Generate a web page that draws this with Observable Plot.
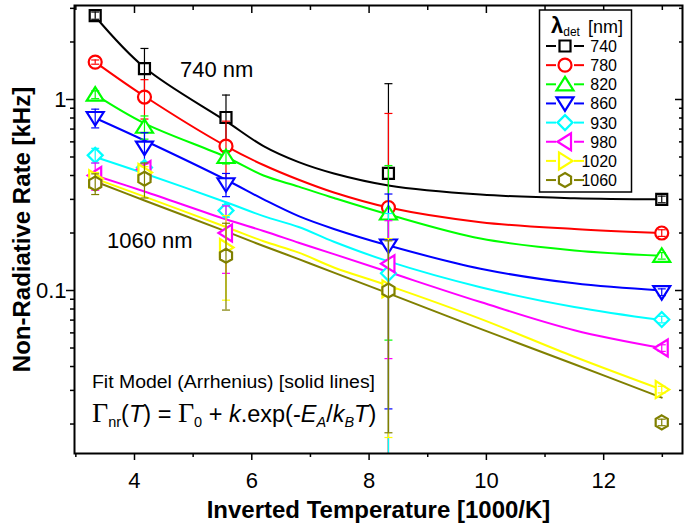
<!DOCTYPE html>
<html><head><meta charset="utf-8">
<script src="https://cdn.jsdelivr.net/npm/d3@7"></script>
<script src="https://cdn.jsdelivr.net/npm/@observablehq/plot@0.6"></script>
<style>body{margin:0;background:#fff;} svg{display:block}</style>
</head><body><div id="chart"></div>
<script>
// ---- data ----
const temperatures = [3.33, 4.17, 5.56, 8.33, 12.99];
const wavelengths = ["740","780","820","860","930","980","1020","1060"];
const colors = ["#000000","#ff0000","#00ff00","#0000ff","#00ffff","#ff00ff","#ffff00","#808000"];

const rate740  = [2.75, 1.45, 0.805, 0.41, 0.30];
const rate780  = [1.57, 1.03, 0.57, 0.272, 0.20];
const rate820  = [1.06, 0.72, 0.50, 0.253, 0.152];
const rate860  = [0.80, 0.56, 0.36, 0.172, 0.098];
const rate930  = [0.51, 0.44, 0.262, 0.123, 0.0705];
const rate980  = [0.40, 0.43, 0.20, 0.138, 0.050];
const rate1020 = [0.385, 0.415, 0.168, 0.102, 0.0303];
const rate1060 = [0.363, 0.385, 0.152, 0.100, 0.0204];

const err740  = [0.12, 0.40, 0.25, 0.80, 0.012];
const err780  = [0.04, 0.24, 0.20, 0.573, 0.008];
const err820  = [0.05, 0.10, 0.04, 0.198, 0.006];
const err860  = [0.09, 0.11, 0.05, 0.148, 0.004];
const err930  = [0.045, 0.03, 0.02, 0.13, 0.0028];
const err980  = [0.065, 0.03, 0.077, 0.094, 0.002];
const err1020 = [0.03, 0.03, 0.079, 0.085, 0.0012];
const err1060 = [0.045, 0.08, 0.073, 0.082, 0.0008];

// fit curves (solid lines) read at these inverted temperatures
const fitX    = [3.33, 4.17, 5.56, 6.2, 6.8, 7.4, 8.33, 9.9, 11.5, 12.99];
const fit740  = [2.72, 1.47, 0.77, 0.57, 0.47, 0.41, 0.355, 0.318, 0.304, 0.30];
const fit780  = [1.57, 1.04, 0.57, 0.454, 0.38, 0.326, 0.272, 0.228, 0.21, 0.20];
const fit820  = [1.06, 0.75, 0.50, 0.40, 0.35, 0.305, 0.25, 0.187, 0.162, 0.152];
const fit860  = [0.80, 0.61, 0.38, 0.30, 0.245, 0.21, 0.172, 0.130, 0.109, 0.100];
const fit930  = [0.50, 0.41, 0.29, 0.245, 0.215, 0.18, 0.142, 0.104, 0.082, 0.070];
const fit980  = [0.40, 0.33, 0.236, 0.205, 0.178, 0.155, 0.125, 0.087, 0.062, 0.050];
const fit1020 = [0.385, 0.31, 0.215, 0.181, 0.158, 0.132, 0.106, 0.071, 0.045, 0.0303];
const fit1060 = [0.372, 0.296, 0.204, 0.171, 0.146, 0.124, 0.0966, 0.063, 0.0411, 0.0275];

const xTicks = [4, 6, 8, 10, 12];
const xMinorTicks = [3, 5, 7, 9, 11, 13];
const yTicks = [0.1, 1];
const yMinorTicks = [0.02,0.03,0.04,0.05,0.06,0.07,0.08,0.09,0.2,0.3,0.4,0.5,0.6,0.7,0.8,0.9,2,3];

// ---- symbols ----
const poly = pts => ({draw(ctx){ ctx.moveTo(pts[0][0], pts[0][1]); for (let i = 1; i < pts.length; i++) ctx.lineTo(pts[i][0], pts[i][1]); ctx.closePath(); }});
const symSquare = poly([[-5.5,-5.5],[5.5,-5.5],[5.5,5.5],[-5.5,5.5]]);
const symCircle = {draw(ctx){ ctx.moveTo(6.5,0); ctx.arc(0,0,6.5,0,2*Math.PI); ctx.closePath(); }};
const symUp = poly([[0,-7.5],[8.5,6],[-8.5,6]]);
const symDown = poly([[0,7.5],[8.5,-6],[-8.5,-6]]);
const symDiamond = poly([[0,-7.5],[7.5,0],[0,7.5],[-7.5,0]]);
const symLeft = poly([[-7.5,0],[6,-8.5],[6,8.5]]);
const symRight = poly([[7.5,0],[-6,-8.5],[-6,8.5]]);
const symHex = poly([[0,-7],[6.06,-3.5],[6.06,3.5],[0,7],[-6.06,3.5],[-6.06,-3.5]]);
const symCap = {draw(ctx){ ctx.moveTo(-4,0); ctx.lineTo(4,0); }};
const symbols = [symSquare, symCircle, symUp, symDown, symDiamond, symLeft, symRight, symHex];

const rateArrays = [rate740, rate780, rate820, rate860, rate930, rate980, rate1020, rate1060];
const errArrays = [err740, err780, err820, err860, err930, err980, err1020, err1060];
const fitArrays = [fit740, fit780, fit820, fit860, fit930, fit980, fit1020, fit1060];

const yMin = 0.01402, yMax = 3.105;

const fitMarks = [];
const pointMarks = [];
wavelengths.forEach((w, i) => {
  const color = colors[i];
  const fitRows = fitX.map((x, j) => ({x, y: fitArrays[i][j]}));
  fitMarks.push(Plot.line(fitRows, {x: "x", y: "y", stroke: color, strokeWidth: 2, curve: "catmull-rom"}));
  const pts = temperatures.map((t, j) => {
    const v = rateArrays[i][j], e = errArrays[i][j];
    return {x: t, y: v, lo: v - e > yMin ? v - e : yMin, hi: v + e, loCap: v - e > yMin};
  });
  const caps = [];
  pts.forEach(p => { caps.push({x: p.x, v: p.hi}); if (p.loCap) caps.push({x: p.x, v: p.lo}); });
  pointMarks.push(
    Plot.dot(pts, {x: "x", y: "y", symbol: symbols[i], r: 5, stroke: color, fill: "white", strokeWidth: 2.2}),
    Plot.ruleX(pts, {x: "x", y1: "lo", y2: "hi", stroke: color, strokeWidth: 1.2}),
    Plot.dot(caps, {x: "x", y: "v", symbol: symCap, r: 4, stroke: color, strokeWidth: 1.2})
  );
});

const font = "'Liberation Sans', Arial, sans-serif";
const empty = () => "";

const svg = Plot.plot({
  width: 685, height: 523,
  marginLeft: 74, marginRight: 3, marginTop: 5, marginBottom: 70,
  style: {fontFamily: font, background: "white", color: "black"},
  x: {domain: [2.977, 13.344]},
  y: {type: "log", domain: [yMin, yMax]},
  marks: [
    ...fitMarks,
    ...pointMarks,
    Plot.frame({stroke: "black", strokeWidth: 2}),
    Plot.axisX(xTicks, {anchor: "bottom", tickSize: 7, tickPadding: 12, fontSize: 22, label: null, strokeWidth: 1.5}),
    Plot.axisX(xMinorTicks, {anchor: "bottom", tickSize: 4, tickFormat: empty, label: null, strokeWidth: 1.5}),
    Plot.axisX(xTicks, {anchor: "top", tickSize: -7, tickFormat: empty, label: null, strokeWidth: 1.5}),
    Plot.axisX(xMinorTicks, {anchor: "top", tickSize: -4, tickFormat: empty, label: null, strokeWidth: 1.5}),
    Plot.axisY(yTicks, {anchor: "left", tickSize: 8, tickPadding: 0, fontSize: 22, tickFormat: d => String(d), label: null, strokeWidth: 1.5}),
    Plot.axisY(yMinorTicks, {anchor: "left", tickSize: 4, tickFormat: empty, label: null, strokeWidth: 1.5}),
    Plot.axisY(yTicks, {anchor: "right", tickSize: -8, tickFormat: empty, label: null, strokeWidth: 1.5}),
    Plot.axisY(yMinorTicks, {anchor: "right", tickSize: -4, tickFormat: empty, label: null, strokeWidth: 1.5}),
    Plot.text(["Inverted Temperature [1000/K]"], {frameAnchor: "bottom", dy: 64, fontSize: 24, fontWeight: "bold", textAnchor: "middle", lineAnchor: "bottom"}),
    Plot.text(["Non-Radiative Rate [kHz]"], {frameAnchor: "left", dx: -52, rotate: -90, fontSize: 24, fontWeight: "bold", textAnchor: "middle"})
  ]
});
document.getElementById("chart").appendChild(svg);

// ---- annotations and legend ----
const s = d3.select(svg);
const ann = s.append("g").attr("font-family", font).attr("fill", "black").attr("text-anchor", "start");
ann.append("text").attr("x", 180).attr("y", 77).attr("font-size", 22).text("740 nm");
ann.append("text").attr("x", 107).attr("y", 248).attr("font-size", 22).text("1060 nm");
ann.append("text").attr("x", 92).attr("y", 388).attr("font-size", 18).attr("textLength", 283).attr("lengthAdjust", "spacingAndGlyphs").text("Fit Model (Arrhenius) [solid lines]");
const f = ann.append("text").attr("x", 92).attr("y", 422).attr("font-size", 23.5);
const serif = "'Liberation Serif', 'Times New Roman', serif";
f.append("tspan").attr("font-family", serif).attr("font-size", 28).text("Γ");
f.append("tspan").attr("font-size", 14.5).attr("dy", 5).text("nr");
f.append("tspan").attr("dy", -5).text("(");
f.append("tspan").attr("font-style", "italic").text("T");
f.append("tspan").text(") = ");
f.append("tspan").attr("font-family", serif).attr("font-size", 28).text("Γ");
f.append("tspan").attr("font-size", 14.5).attr("dy", 5).text("0");
f.append("tspan").attr("dy", -5).text(" + ");
f.append("tspan").attr("font-style", "italic").text("k");
f.append("tspan").text(".exp(-");
f.append("tspan").attr("font-style", "italic").text("E");
f.append("tspan").attr("font-style", "italic").attr("font-size", 14.5).attr("dy", 5).text("A");
f.append("tspan").attr("dy", -5).text("/");
f.append("tspan").attr("font-style", "italic").text("k");
f.append("tspan").attr("font-style", "italic").attr("font-size", 14.5).attr("dy", 5).text("B");
f.append("tspan").attr("font-style", "italic").attr("dy", -5).text("T");
f.append("tspan").text(")");

const lg = s.append("g").attr("font-family", font).attr("text-anchor", "start");
lg.append("rect").attr("x", 539.5).attr("y", 10).attr("width", 92).attr("height", 182)
  .attr("fill", "white").attr("stroke", "black").attr("stroke-width", 1.5);
const title = lg.append("text").attr("x", 551).attr("y", 33).attr("fill", "black");
title.append("tspan").attr("font-weight", "bold").attr("font-size", 22).text("λ");
title.append("tspan").attr("font-size", 12).attr("dy", 3).text("det");
title.append("tspan").attr("font-size", 18).attr("dy", -3).attr("x", 588).text("[nm]");
wavelengths.forEach((w, i) => {
  const y = 46 + i * 19.15;
  const g = lg.append("g");
  g.append("line").attr("x1", 546).attr("x2", 556).attr("y1", y).attr("y2", y).attr("stroke", colors[i]).attr("stroke-width", 2);
  g.append("line").attr("x1", 574).attr("x2", 584).attr("y1", y).attr("y2", y).attr("stroke", colors[i]).attr("stroke-width", 2);
  const p = d3.path(); symbols[i].draw(p, 0);
  g.append("path").attr("d", p.toString()).attr("transform", `translate(565,${y})`)
    .attr("fill", "white").attr("stroke", colors[i]).attr("stroke-width", 2.2);
  g.append("text").attr("x", 617).attr("y", y + 6).attr("text-anchor", "end").attr("font-size", 16).attr("fill", "black").text(w);
});
</script></body></html>
